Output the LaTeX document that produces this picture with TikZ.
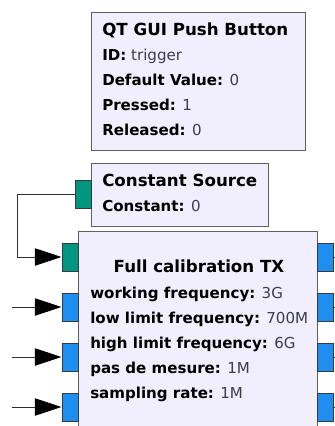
\documentclass[tikz,border=0pt]{standalone}
\usepackage{fontspec}
\setmainfont{DejaVu Sans}
\usetikzlibrary{arrows.meta}
\definecolor{boxfill}{HTML}{F1EEFD}
\definecolor{boxline}{HTML}{606060}
\definecolor{tealport}{HTML}{00967F}
\definecolor{blueport}{HTML}{1E8EF0}
\definecolor{portline}{HTML}{3A3A3A}
\definecolor{valcol}{HTML}{3C3C50}
\definecolor{wirecol}{HTML}{303030}
\tikzset{
  blk/.style={draw=boxline, fill=boxfill, line width=0.75pt, rectangle, inner sep=0pt},
  tport/.style={draw=portline, fill=tealport, line width=0.75pt, rectangle, inner sep=0pt, minimum width=12pt, minimum height=21pt},
  bport/.style={draw=portline, fill=blueport, line width=0.75pt, rectangle, inner sep=0pt, minimum width=12pt, minimum height=21pt},
  lbl/.style={anchor=base west, inner sep=0pt, font=\fontsize{11.3pt}{14pt}\selectfont},
  ttlw/.style={anchor=base west, inner sep=0pt, font=\fontsize{12.5pt}{15pt}\selectfont\bfseries},
  ttl/.style={anchor=base, inner sep=0pt, font=\fontsize{12.5pt}{15pt}\selectfont\bfseries},
  conn/.style={draw=wirecol, line width=0.75pt, -{Triangle[length=20pt,width=13pt,color=black]}},
  stub/.style={draw=wirecol, line width=0.75pt}
}
\newcommand{\kv}[2]{\textbf{#1:} \textcolor{valcol}{#2}}
\begin{document}
\begin{tikzpicture}[x=0.75pt,y=-0.75pt]
\useasboundingbox (0,0) rectangle (335,426);
\clip (0,0) rectangle (335,426);
\fill[white] (0,0) rectangle (335,426);

% QT GUI Push Button
\node[blk, minimum width=160.5pt, minimum height=103.5pt] (qt) at (198,81) {};
\node[ttlw] (qtt) at (102,35) {QT GUI Push Button};
\node[lbl] (qt1) at (102,60) {\kv{ID}{trigger}};
\node[lbl] (qt2) at (102,85) {\kv{Default Value}{0}};
\node[lbl] (qt3) at (102,110) {\kv{Pressed}{1}};
\node[lbl] (qt4) at (102,135) {\kv{Released}{0}};

% Constant Source
\node[blk, minimum width=132.75pt, minimum height=47.25pt] (cs) at (179.5,194.5) {};
\node[tport] (cport) at (83,194) {};
\node[ttlw] (cst) at (102,186) {Constant Source};
\node[lbl] (cs1) at (102,211) {\kv{Constant}{0}};

% Full calibration TX
\node[blk, minimum width=179.25pt, minimum height=150.75pt] (fc) at (197.5,331.5) {};
\node[tport] (fin0) at (70,257) {};
\node[bport] (fin1) at (70,307) {};
\node[bport] (fin2) at (70,357) {};
\node[bport] (fin3) at (70,407) {};
\node[bport] (fout0) at (325,257) {};
\node[bport] (fout1) at (325,307) {};
\node[bport] (fout2) at (325,357) {};
\node[bport] (fout3) at (325,407) {};
\node[ttl] (fct) at (199,272) {Full calibration TX};
\node[lbl] (fc1) at (90,298) {\kv{working frequency}{3G}};
\node[lbl] (fc2) at (90,323) {\kv{low limit frequency}{700M}};
\node[lbl] (fc3) at (90,348) {\kv{high limit frequency}{6G}};
\node[lbl] (fc4) at (90,373) {\kv{pas de mesure}{1M}};
\node[lbl] (fc5) at (90,398) {\kv{sampling rate}{1M}};

% connectors
\coordinate (bend) at (17,257);
\draw[conn] (cport.west) -| (bend) -- (fin0.west);
\coordinate (s1) at (12,307);
\coordinate (s2) at (12,357);
\coordinate (s3) at (12,407);
\draw[conn] (s1) -- (fin1.west);
\draw[conn] (s2) -- (fin2.west);
\draw[conn] (s3) -- (fin3.west);
\coordinate (o0) at (345,257);
\coordinate (o1) at (345,307);
\coordinate (o2) at (345,357);
\coordinate (o3) at (345,407);
\draw[stub] (fout0.east) -- (o0);
\draw[stub] (fout1.east) -- (o1);
\draw[stub] (fout2.east) -- (o2);
\draw[stub] (fout3.east) -- (o3);
\end{tikzpicture}
\end{document}
